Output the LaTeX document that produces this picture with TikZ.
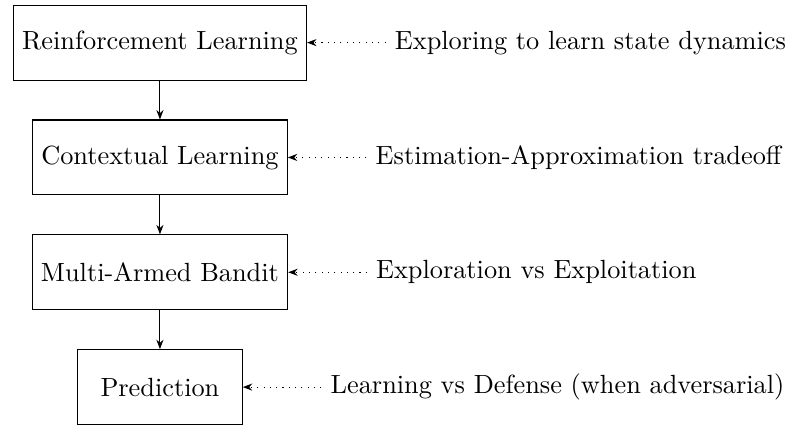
\documentclass[tikz,border=0pt]{standalone}
\usepackage{tikz}
\usetikzlibrary{arrows.meta, positioning}

\begin{document}
\begin{tikzpicture}[
    node distance=0.52cm and 1.05cm,
    stage/.style={rectangle, draw, minimum height=1cm},
    note/.style={rectangle},
    flow/.style={-{Stealth[length=3.6pt]}},
    hint/.style={-{Stealth[length=3.6pt]}, dotted},
]
\useasboundingbox (-60.8pt,16.2pt) rectangle (239.5pt,-145.1pt);

\node[stage] (rl) at (0,0) {Reinforcement Learning};
\node[stage, below=of rl] (cl) {Contextual Learning};
\node[stage, below=of cl] (mab) {Multi-Armed Bandit};
\node[stage, minimum width=2.2cm, below=of mab] (pred) {Prediction};

\node[note, right=of rl] (rln) {Exploring to learn state dynamics};
\node[note, right=of cl] (cln) {Estimation-Approximation tradeoff};
\node[note, right=of mab] (mabn) {Exploration vs Exploitation};
\node[note, right=of pred] (predn) {Learning vs Defense (when adversarial)};

\draw[flow] (rl) -- (cl);
\draw[flow] (cl) -- (mab);
\draw[flow] (mab) -- (pred);
\draw[hint] (rln) -- (rl);
\draw[hint] (cln) -- (cl);
\draw[hint] (mabn) -- (mab);
\draw[hint] (predn) -- (pred);
\end{tikzpicture}
\end{document}
